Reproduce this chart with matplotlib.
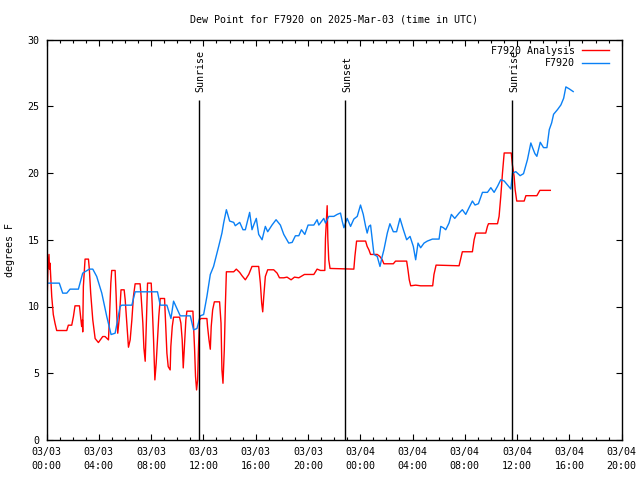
import matplotlib
matplotlib.use("Agg")
import matplotlib.pyplot as plt

# Hours since 2025-03-03 00:00 UTC, dew point in degrees F
obs_hours = [0.01, 0.98, 1.24, 1.55, 1.80, 2.44, 2.77, 3.28, 3.54, 3.84, 4.23, 4.61, 4.94, 5.25,
             5.63, 5.76, 6.53, 6.78, 8.49, 8.70, 9.21, 9.52, 9.72, 10.23, 11.0, 11.25, 11.51, 11.76,
             12.02, 12.27, 12.53, 12.78, 13.17, 13.42, 13.55, 13.76, 14.01, 14.32, 14.44, 14.78,
             15.03, 15.21, 15.54, 15.72, 15.85, 16.05, 16.23, 16.49, 16.74, 16.92, 17.25, 17.56,
             17.89, 18.15, 18.53, 18.79, 19.04, 19.30, 19.50, 19.76, 20.01, 20.45, 20.70, 20.83,
             21.21, 21.34, 21.60, 21.98, 22.24, 22.49, 22.62, 22.75, 23.00, 23.26, 23.51, 23.77,
             24.02, 24.23, 24.41, 24.53, 24.66, 24.79, 24.92, 25.05, 25.30, 25.51, 25.68, 25.81,
             26.07, 26.27, 26.53, 26.78, 27.04, 27.30, 27.55, 27.81, 28.06, 28.24, 28.42, 28.62,
             28.88, 29.13, 29.52, 30.03, 30.16, 30.36, 30.54, 30.79, 30.97, 31.23, 31.56, 31.81,
             32.07, 32.32, 32.58, 32.78, 33.04, 33.35, 33.73, 33.99, 34.24, 34.50, 34.75, 35.01,
             35.26, 35.52, 35.65, 35.90, 36.23, 36.49, 36.79, 37.05, 37.18, 37.36, 37.51, 37.77,
             38.02, 38.28, 38.46, 38.64, 38.79, 39.09, 39.35, 39.56, 39.73, 39.99, 40.29]
obs_dewpt = [11.75, 11.75, 11.0, 11.0, 11.3, 11.3, 12.5, 12.8, 12.8, 12.25, 11.0, 9.25, 7.9, 8.0,
             10.0, 10.1, 10.1, 11.1, 11.1, 10.1, 10.1, 9.1, 10.4, 9.3, 9.3, 8.25, 8.35, 9.3,
             9.4, 10.75, 12.4, 13.0, 14.5, 15.5, 16.25, 17.25, 16.4, 16.3, 16.05, 16.3,
             15.75, 15.75, 17.05, 15.75, 16.1, 16.6, 15.4, 15.0, 16.0, 15.6, 16.1, 16.5,
             16.1, 15.4, 14.75, 14.8, 15.3, 15.3, 15.75, 15.4, 16.1, 16.1, 16.5, 16.1,
             16.6, 16.25, 16.75, 16.75, 16.9, 17.0, 16.4, 15.9, 16.6, 16.0, 16.55, 16.75,
             17.6, 16.9, 16.0, 15.5, 16.0, 16.1, 15.0, 13.9, 13.75, 13.0, 13.75, 14.25,
             15.5, 16.2, 15.6, 15.6, 16.6, 15.75, 15.0, 15.25, 14.5, 13.5, 14.75, 14.4,
             14.75, 14.9, 15.05, 15.05, 16.0, 15.9, 15.75, 16.25, 16.9, 16.6, 17.0, 17.25,
             16.9, 17.4, 17.9, 17.6, 17.7, 18.55, 18.55, 18.9, 18.55, 19.0, 19.5, 19.4,
             19.1, 18.8, 20.0, 20.1, 19.8, 19.95, 21.0, 22.25, 21.9, 21.45, 21.25, 22.3,
             21.9, 21.9, 23.25, 23.75, 24.4, 24.75, 25.1, 25.6, 26.45, 26.3, 26.1]

ana_hours = [0.01, 0.06, 0.11, 0.19, 0.23, 0.27, 0.40, 0.52, 0.65, 0.78, 1.55, 1.67, 1.93, 2.06,
             2.18, 2.52, 2.62, 2.69, 2.75, 2.77, 2.82, 2.95, 3.21, 3.28, 3.38, 3.54, 3.72, 3.97,
             4.30, 4.48, 4.74, 4.82, 4.92, 4.99, 5.25, 5.33, 5.38, 5.45, 5.58, 5.70, 5.94, 6.02,
             6.14, 6.27, 6.40, 6.53, 6.65, 6.78, 7.16, 7.24, 7.37, 7.45, 7.55, 7.62, 7.73, 8.01,
             8.08, 8.19, 8.29, 8.39, 8.49, 8.59, 8.70, 9.03, 9.11, 9.21, 9.31, 9.46, 9.51, 9.62,
             9.72, 10.18, 10.28, 10.38, 10.46, 10.56, 10.66, 10.74, 11.20, 11.25, 11.33, 11.40,
             11.48, 11.56, 11.63, 11.71, 11.81, 12.27, 12.32, 12.43, 12.53, 12.60, 12.71, 12.84,
             13.24, 13.35, 13.42, 13.50, 13.60, 13.68, 13.76, 14.32, 14.52, 14.78, 14.96, 15.21,
             15.47, 15.72, 16.23, 16.36, 16.46, 16.54, 16.62, 16.74, 16.92, 17.38, 17.64, 17.82,
             18.15, 18.40, 18.71, 18.97, 19.30, 19.73, 20.45, 20.70, 20.96, 21.29, 21.34, 21.47,
             21.52, 21.59, 21.69, 23.51, 23.59, 23.72, 24.41, 24.53, 24.66, 24.79, 25.30, 25.50,
             25.68, 25.81, 26.53, 26.70, 27.55, 27.65, 27.75, 27.86, 28.24, 28.62, 29.54, 29.64,
             29.80, 31.56, 31.69, 31.81, 32.58, 32.71, 32.84, 33.60, 33.73, 33.81, 34.50, 34.62,
             34.75, 34.88, 35.01, 35.55, 35.64, 35.77, 35.85, 35.97, 36.54, 36.67, 37.51, 37.74,
             38.54]
ana_dewpt = [9.1, 11.0, 12.9, 13.9, 12.8, 13.25, 10.75, 9.4, 8.75, 8.2, 8.2, 8.6, 8.6, 9.25,
             10.05, 10.05, 9.1, 8.5, 9.0, 8.1, 11.5, 13.55, 13.55, 12.75, 11.0, 9.0, 7.6, 7.3,
             7.75, 7.75, 7.5, 9.25, 11.75, 12.7, 12.7, 10.75, 9.25, 8.0, 9.25, 11.25, 11.25, 10.5,
             8.75, 6.95, 7.5, 9.0, 10.75, 11.7, 11.7, 10.75, 8.75, 6.9, 5.9, 8.25, 11.75, 11.75,
             10.25, 7.5, 4.5, 5.75, 7.5, 9.25, 10.6, 10.6, 8.75, 6.5, 5.5, 5.25, 7.0, 8.5,
             9.2, 9.2, 8.75, 7.5, 5.4, 7.25, 9.0, 9.65, 9.65, 8.5, 6.75, 4.75,
             3.75, 4.5, 7.0, 9.0, 9.1, 9.1, 8.5, 7.5, 6.8, 8.5, 9.75, 10.35,
             10.35, 8.75, 5.25, 4.25, 6.75, 10.0, 12.6, 12.6, 12.8, 12.55, 12.3, 12.0,
             12.4, 13.0, 13.0, 11.75, 10.25, 9.6, 10.75, 12.25, 12.75, 12.75, 12.5, 12.15,
             12.15, 12.2, 12.0, 12.2, 12.15, 12.4, 12.4, 12.8, 12.7, 12.7, 15.1, 17.55,
             15.1, 13.5, 12.85, 12.8, 13.75, 14.9, 14.9, 14.5, 14.25, 13.9, 13.9, 13.75,
             13.5, 13.2, 13.2, 13.4, 13.4, 12.75, 12.0, 11.55, 11.6, 11.55, 11.55, 12.4,
             13.1, 13.05, 13.6, 14.1, 14.1, 15.0, 15.5, 15.5, 16.0, 16.2, 16.2, 16.75,
             18.25, 20.0, 21.5, 21.5, 20.6, 19.75, 18.75, 17.9, 17.9, 18.3, 18.3, 18.7,
             18.7]

sun_hours = [11.63, 22.82, 35.64]
sun_labels = ["Sunrise", "Sunset", "Sunrise"]

xtick_hours = [0, 4, 8, 12, 16, 20, 24, 28, 32, 36, 40, 44]
xtick_labels = ["03/03\n00:00", "03/03\n04:00", "03/03\n08:00", "03/03\n12:00",
                "03/03\n16:00", "03/03\n20:00", "03/04\n00:00", "03/04\n04:00",
                "03/04\n08:00", "03/04\n12:00", "03/04\n16:00", "03/04\n20:00"]

plt.rcParams["font.family"] = "DejaVu Sans Mono"
plt.rcParams["font.size"] = 7.2

fig = plt.figure(figsize=(6.4, 4.8), dpi=100)
ax = fig.add_axes([46.5 / 640, 40 / 480, 575.2 / 640, 400.5 / 480])

ax.plot(ana_hours, ana_dewpt, color="#ff0000", lw=1.0, label="F7920 Analysis")
ax.plot(obs_hours, obs_dewpt, color="#0a80f5", lw=1.0, label="F7920")

# sunrise / sunset markers
ax.vlines(sun_hours, 0, 25.5, color="black", lw=1.0)
for h, lab in zip(sun_hours, sun_labels):
    ax.text(h + 0.17, 26.1, lab, rotation=90, ha="center", va="bottom")

ax.set_xlim(0, 44)
ax.set_ylim(0, 30)
ax.set_xticks(xtick_hours)
ax.set_xticklabels(xtick_labels, linespacing=1.5)
ax.set_xticks(range(0, 45), minor=True)
ax.set_yticks(range(0, 31, 5))

ax.tick_params(which="both", direction="in", top=True, right=True, width=0.8)
ax.tick_params(which="major", length=4)
ax.tick_params(which="minor", length=2)
ax.tick_params(axis="x", pad=5)
ax.tick_params(axis="y", pad=5)
for s in ax.spines.values():
    s.set_linewidth(1.0)

ax.set_title("Dew Point for F7920 on 2025-Mar-03 (time in UTC)", fontsize=7.2, pad=12)
ax.set_ylabel("degrees F")
ax.yaxis.set_label_coords(-0.055, 0.475)

ax.legend(loc="upper right", bbox_to_anchor=(0.988, 1.0), frameon=False, markerfirst=False,
          fontsize=7.2, handlelength=2.7, handletextpad=0.7, labelspacing=0.3,
          borderaxespad=0.2)

fig.savefig("out.png", dpi=100)
